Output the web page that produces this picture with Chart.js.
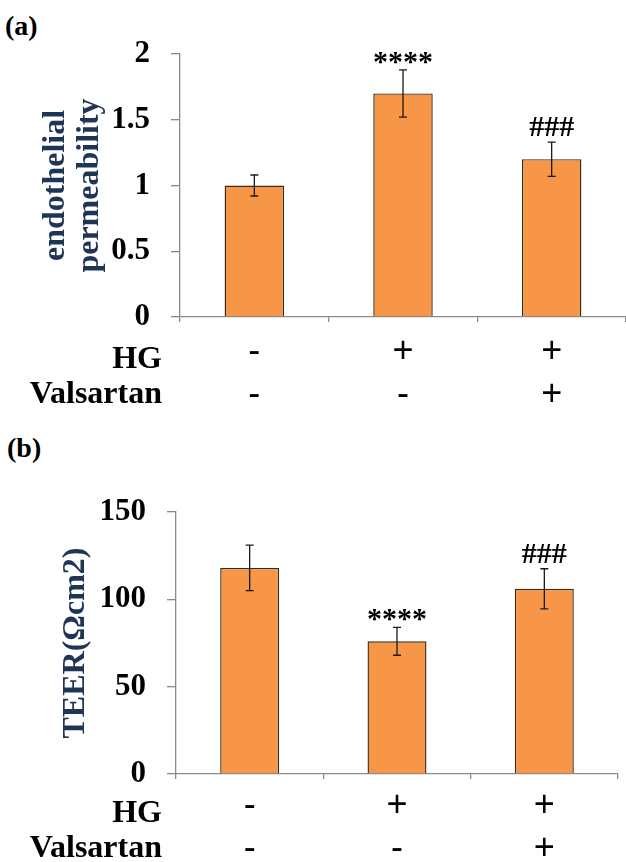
<!DOCTYPE html>
<html lang="en">

<head>
    <meta charset="UTF-8">
    <title>endothelial permeability / TEER</title>
    <style>
        body { margin: 0; background: #fff; width: 626px; height: 862px; overflow: hidden; position: relative; }
        .panel { position: absolute; left: 0; width: 626px; }
        .tag { position: absolute; font: bold 28px "Liberation Serif", "Times New Roman", serif; color: #000; }
    </style>
</head>

<body>
    <div class="tag" style="left:5px; top:10px;">(a)</div>
    <div class="panel" style="top:0; height:420px;">
        <canvas id="chartA" width="626" height="420"></canvas>
    </div>
    <div class="tag" style="left:7px; top:432px;">(b)</div>
    <div class="panel" style="top:420px; height:442px;">
        <canvas id="chartB" width="626" height="442"></canvas>
    </div>

    <script src="https://cdn.jsdelivr.net/npm/chart.js"></script>
    <script>
        // data
        const rowNames = ['HG', 'Valsartan'];
        const hgRow = ['-', '+', '+'];
        const valsartanRow = ['-', '-', '+'];

        const permMean = [1.0, 1.70, 1.20];
        const permErr = [0.08, 0.18, 0.13];
        const permMarks = ['', '****', '###'];
        const permTicks = [0, 0.5, 1, 1.5, 2];

        const teerMean = [118, 76, 106];
        const teerErr = [13, 8, 11.5];
        const teerMarks = ['', '****', '###'];
        const teerTicks = [0, 50, 100, 150];

        const SERIF = '"Liberation Serif", "Times New Roman", serif';
        const SANS = '"Liberation Sans", Arial, sans-serif';
        const ORANGE = '#F79646';
        const AXIS_GREY = '#8a8a8a';

        // error bars + significance marks
        const errorBarPlugin = {
            id: 'errorBars',
            afterDatasetsDraw(chart, args, opts) {
                const ctx = chart.ctx;
                const meta = chart.getDatasetMeta(0);
                const y = chart.scales.y;
                ctx.save();
                ctx.strokeStyle = '#1a1a1a';
                ctx.lineWidth = 1.3;
                meta.data.forEach(function (bar, i) {
                    const m = opts.mean[i], e = opts.err[i];
                    const yTop = y.getPixelForValue(m + e);
                    const yBot = y.getPixelForValue(m - e);
                    ctx.beginPath();
                    ctx.moveTo(bar.x, yTop); ctx.lineTo(bar.x, yBot);
                    ctx.moveTo(bar.x - 4, yTop); ctx.lineTo(bar.x + 4, yTop);
                    ctx.moveTo(bar.x - 4, yBot); ctx.lineTo(bar.x + 4, yBot);
                    ctx.stroke();

                    const mark = opts.marks[i];
                    if (mark) {
                        ctx.font = 'bold 30px ' + SERIF;
                        ctx.fillStyle = '#000';
                        ctx.textAlign = 'center';
                        ctx.textBaseline = 'alphabetic';
                        const mt = ctx.measureText(mark);
                        ctx.fillText(mark, bar.x, yTop - 6 - mt.actualBoundingBoxDescent);
                    }
                });
                ctx.restore();
            }
        };

        // "HG" / "Valsartan" row names to the left of the +/- rows
        const rowNamePlugin = {
            id: 'rowNames',
            afterDraw(chart, args, opts) {
                const ctx = chart.ctx;
                const x = chart.scales.x;
                ctx.save();
                ctx.font = 'bold 32px ' + SERIF;
                ctx.fillStyle = '#000';
                ctx.textAlign = 'right';
                ctx.textBaseline = 'middle';
                rowNames.forEach(function (name, i) {
                    ctx.fillText(name, opts.right, x.top + opts.first + i * opts.step);
                });
                ctx.restore();
            }
        };

        function makeChart(id, cfg) {
            const labels = hgRow.map(function (h, i) { return [h, valsartanRow[i]]; });
            return new Chart(document.getElementById(id), {
                type: 'bar',
                data: {
                    labels: labels,
                    datasets: [{
                        data: cfg.mean,
                        backgroundColor: ORANGE,
                        borderColor: '#3a2a1a',
                        borderWidth: 1.4,
                        barPercentage: 0.4,
                        categoryPercentage: 1
                    }]
                },
                options: {
                    responsive: false,
                    animation: false,
                    layout: { padding: { top: cfg.plotTop, left: 0, right: cfg.padRight, bottom: 0 } },
                    plugins: {
                        legend: { display: false },
                        tooltip: { enabled: false },
                        errorBars: { mean: cfg.mean, err: cfg.err, marks: cfg.marks },
                        rowNames: { right: 162, first: cfg.nameFirst, step: 35 }
                    },
                    scales: {
                        x: {
                            offset: true,
                            grid: { drawOnChartArea: false, tickLength: 5, color: AXIS_GREY, lineWidth: 1.3, offset: true },
                            border: { color: AXIS_GREY, width: 1.3 },
                            ticks: {
                                color: '#000',
                                padding: cfg.xPad,
                                maxRotation: 0,
                                font: { family: SANS, size: 36, weight: 'normal', lineHeight: 1.19 }
                            },
                            afterFit: function (s) { s.height = cfg.xHeight; }
                        },
                        y: {
                            min: cfg.ticks[0],
                            max: cfg.ticks[cfg.ticks.length - 1],
                            afterBuildTicks: function (s) { s.ticks = cfg.ticks.map(function (v) { return { value: v }; }); },
                            grid: { drawOnChartArea: false, tickLength: 9, color: AXIS_GREY, lineWidth: 1.3 },
                            border: { color: AXIS_GREY, width: 1.3 },
                            ticks: {
                                color: '#000',
                                padding: 21,
                                callback: function (v) { return String(v); },
                                font: { family: SERIF, size: 31, weight: 'bold' }
                            },
                            title: {
                                display: true,
                                text: cfg.title,
                                color: '#1f3556',
                                padding: { top: cfg.titlePad, bottom: 0 },
                                font: { family: SERIF, size: 32, weight: 'bold', lineHeight: 1.06 }
                            },
                            afterFit: function (s) { s.width = cfg.yWidth; }
                        }
                    }
                },
                plugins: [errorBarPlugin, rowNamePlugin]
            });
        }

        makeChart('chartA', {
            mean: permMean, err: permErr, marks: permMarks, ticks: permTicks,
            title: ['endothelial', 'permeability'],
            plotTop: 54, padRight: 0, xHeight: 103, xPad: 9, yWidth: 180, titlePad: 39, nameFirst: 43
        });

        makeChart('chartB', {
            mean: teerMean, err: teerErr, marks: teerMarks, ticks: teerTicks,
            title: 'TEER(Ωcm2)',
            plotTop: 92, padRight: 8, xHeight: 88, xPad: 6, yWidth: 176, titlePad: 59, nameFirst: 40
        });
    </script>
</body>

</html>
